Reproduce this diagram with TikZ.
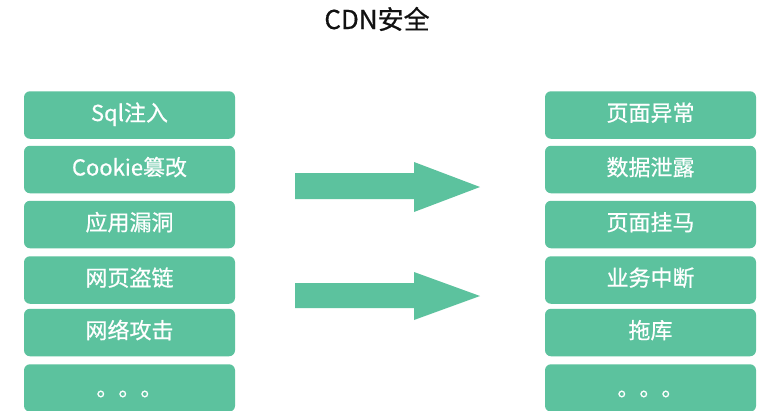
\documentclass[tikz,border=0pt]{standalone}
\usepackage{fontspec}
\setmainfont{Noto Sans CJK SC}[FakeBold=0.6]
\definecolor{cdngreen}{HTML}{5CC29E}
\definecolor{titlecol}{HTML}{111111}
\tikzset{
  itembox/.style={fill=cdngreen, draw=none, rounded corners=6pt,
    minimum width=211pt, minimum height=47.5pt, inner sep=0pt,
    text=white, font=\fontsize{22}{25}\selectfont,
    text height=1.2em, text depth=0em},
  dotsbox/.style={itembox, text height=1.6em},
  blockarrow/.style={fill=cdngreen, draw=none},
  titletext/.style={font=\fontsize{26}{29}\selectfont, text=titlecol, inner sep=0pt}
}
\begin{document}
\begin{tikzpicture}[x=1pt,y=-1pt]
\useasboundingbox (0,0) rectangle (776,410);
\fill[white] (0,0) rectangle (776,410);
\node[titletext, anchor=base] (title) at (377,29) {CDN安全};
% left column
\node[itembox] (l1) at (129.5,115) {Sql注入};
\node[itembox] (l2) at (129.5,169.5) {Cookie篡改};
\node[itembox] (l3) at (129.5,224.5) {应用漏洞};
\node[itembox] (l4) at (129.5,280) {网页盗链};
\node[itembox] (l5) at (129.5,332.5) {网络攻击};
\node[dotsbox] (l6) at (129.5,388) {。。。};
% right column
\node[itembox] (r1) at (650.5,115) {页面异常};
\node[itembox] (r2) at (650.5,169.5) {数据泄露};
\node[itembox] (r3) at (650.5,224.5) {页面挂马};
\node[itembox] (r4) at (650.5,280) {业务中断};
\node[itembox] (r5) at (650.5,332.5) {拖库};
\node[dotsbox] (r6) at (650.5,388) {。。。};
% block arrows
\fill[blockarrow] (295,173) -- (414,173) -- (414,162) -- (480,187) -- (414,212) -- (414,199) -- (295,199) -- cycle;
\fill[blockarrow] (295,283) -- (414,283) -- (414,272) -- (480,296) -- (414,320) -- (414,308) -- (295,308) -- cycle;
\end{tikzpicture}
\end{document}
